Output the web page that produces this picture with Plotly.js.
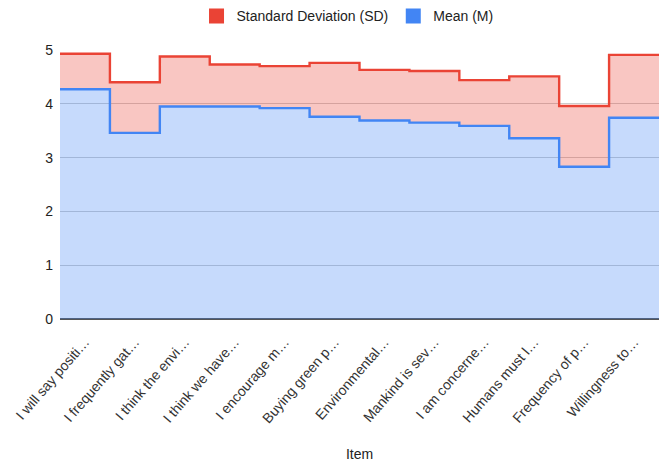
<!DOCTYPE html>
<html>
<head>
<meta charset="utf-8">
<script src="https://cdn.plot.ly/plotly-3.0.1.min.js"></script>
<style>
html,body{margin:0;padding:0;background:#fff;}
#chart{width:659px;height:462px;}
</style>
</head>
<body>
<div id="chart"></div>
<script>
const items = [
  "I will say positi…",
  "I frequently gat…",
  "I think the envi…",
  "I think we have…",
  "I encourage m…",
  "Buying green p…",
  "Environmental…",
  "Mankind is sev…",
  "I am concerne…",
  "Humans must l…",
  "Frequency of p…",
  "Willingness to…"
];
const meanM = [4.27, 3.46, 3.95, 3.95, 3.92, 3.76, 3.69, 3.65, 3.59, 3.36, 2.83, 3.74];
const sdSD  = [0.66, 0.94, 0.93, 0.78, 0.78, 1.00, 0.94, 0.96, 0.85, 1.15, 1.13, 1.17];

const seriesNames = ["Standard Deviation (SD)", "Mean (M)"];
const yTicks = [0, 1, 2, 3, 4, 5];

function steps(vals) {
  const xs = [], ys = [];
  vals.forEach((v, i) => { xs.push(i - 0.5, i + 0.5); ys.push(v, v); });
  return {x: xs, y: ys};
}
const idx = items.map((_, i) => i);
const meanStep = steps(meanM);
const topStep = steps(meanM.map((m, i) => m + sdSD[i]));

const RED = "#ea4335", BLUE = "#4285f4";
const traces = [
  {x: meanStep.x, y: meanStep.y, type: "scatter", mode: "lines",
   line: {color: BLUE, width: 2.4}, fill: "tozeroy", fillcolor: "rgba(66,133,244,0.3)",
   showlegend: false, hoverinfo: "skip"},
  {x: topStep.x, y: topStep.y, type: "scatter", mode: "lines",
   line: {color: RED, width: 2.4}, fill: "tonexty", fillcolor: "rgba(234,67,53,0.3)",
   showlegend: false, hoverinfo: "skip"},
  {x: [null], y: [null], type: "scatter", mode: "markers", name: seriesNames[0],
   marker: {symbol: "square", size: 15, color: RED}},
  {x: [null], y: [null], type: "scatter", mode: "markers", name: seriesNames[1],
   marker: {symbol: "square", size: 15, color: BLUE}}
];

const layout = {
  width: 659, height: 462,
  margin: {l: 60, r: 0, t: 50, b: 143},
  paper_bgcolor: "#fff", plot_bgcolor: "#fff",
  font: {family: "Arial, 'Liberation Sans', sans-serif", size: 14, color: "#222"},
  showlegend: true,
  legend: {orientation: "h", x: 0.48, xanchor: "center", y: 1.125, yanchor: "middle",
           font: {size: 14, color: "#222"}, itemwidth: 30, traceorder: "normal"},
  xaxis: {range: [-0.5, 11.5], tickvals: idx, ticktext: items, tickangle: -49,
          showgrid: false, zeroline: false, showline: false, ticks: "",
          ticklabelstandoff: 11,
          tickfont: {size: 14, color: "#333"},
          title: {text: "Item", font: {size: 14, color: "#222"}, standoff: 26}},
  yaxis: {range: [0, 5], tickvals: yTicks, showgrid: true, gridcolor: "#cccccc",
          zeroline: true, zerolinecolor: "#555555", zerolinewidth: 2,
          showline: false, ticks: "", ticklabelstandoff: 6,
          tickfont: {size: 14, color: "#222"}}
};

Plotly.newPlot("chart", traces, layout, {displayModeBar: false, staticPlot: true});
</script>
</body>
</html>
